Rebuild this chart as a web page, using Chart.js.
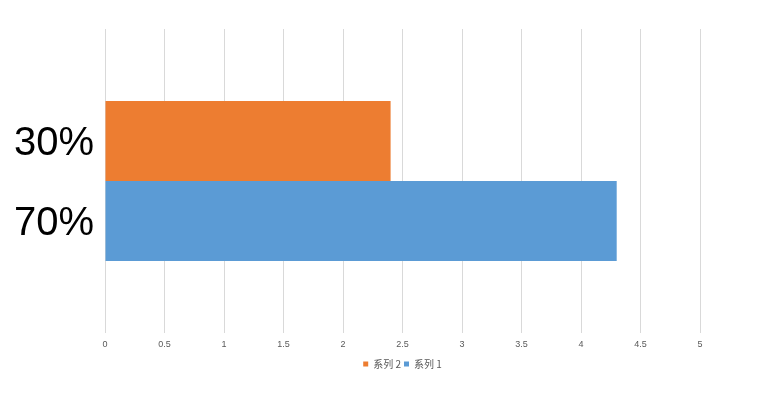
<!DOCTYPE html>
<html>
<head>
<meta charset="utf-8">
<script src="https://cdn.jsdelivr.net/npm/chart.js@4/dist/chart.umd.min.js"></script>
<style>
  html, body { margin: 0; padding: 0; background: #fff; }
  canvas { display: block; }
</style>
</head>
<body>
<canvas id="barChart" width="781" height="410"></canvas>
<script>
// data
const categoryLabels = [['30%', '70%']];
const seriesNames = ['系列 2', '系列 1'];
const series2Values = [2.4];
const series1Values = [4.3];
const xTicks = { min: 0, max: 5, step: 0.5 };

const ctx = document.getElementById('barChart');

new Chart(ctx, {
    type: 'bar',
    data: {
        labels: categoryLabels,
        datasets: [{
            label: seriesNames[0],
            data: series2Values,
            backgroundColor: '#ED7D31',
            borderWidth: 0
        }, {
            label: seriesNames[1],
            data: series1Values,
            backgroundColor: '#5B9BD5',
            borderWidth: 0
        }]
    },
    options: {
        indexAxis: 'y',
        responsive: false,
        animation: false,
        categoryPercentage: 0.526,
        barPercentage: 1,
        layout: {
            padding: { top: 29, left: 4, right: 81, bottom: 31 }
        },
        plugins: {
            legend: {
                position: 'bottom',
                fullSize: false, // centre it under the plot, like the original
                labels: {
                    color: '#595959',
                    boxWidth: 5,
                    boxHeight: 5,
                    padding: 3,
                    font: { size: 10, family: 'Noto Sans CJK SC' }
                }
            },
            tooltip: { enabled: false }
        },
        scales: {
            x: {
                min: xTicks.min,
                max: xTicks.max,
                ticks: {
                    stepSize: xTicks.step,
                    color: '#595959',
                    padding: 6,
                    font: { size: 9, family: 'Liberation Sans' },
                    callback: (v) => String(v)
                },
                grid: {
                    color: '#d9d9d9',
                    drawTicks: false
                },
                border: { display: false }
            },
            y: {
                grid: { display: false },
                border: { display: false },
                ticks: {
                    color: '#000',
                    padding: 3,
                    labelOffset: 3,
                    font: { size: 40, family: 'Liberation Sans', lineHeight: '80px' }
                },
                // big two-line label would otherwise push the plot area inward
                afterFit: (scale) => {
                    scale.width = 101;
                    scale.paddingTop = 0;
                    scale.paddingBottom = 0;
                }
            }
        }
    }
});
</script>
</body>
</html>
